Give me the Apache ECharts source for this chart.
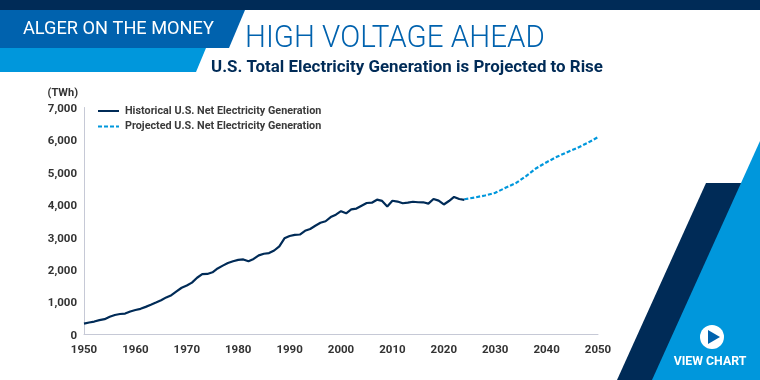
<!DOCTYPE html>
<html><head><meta charset="utf-8">
<style>html,body{margin:0;padding:0;background:#fff}#c{width:760px;height:380px}</style>
<script src="https://cdn.jsdelivr.net/npm/echarts@6/dist/echarts.min.js"></script>
</head><body><div id="c"></div>
<script>
const historicalYears = [1950,1951,1952,1953,1954,1955,1956,1957,1958,1959,1960,1961,1962,1963,1964,1965,1966,1967,1968,1969,1970,1971,1972,1973,1974,1975,1976,1977,1978,1979,1980,1981,1982,1983,1984,1985,1986,1987,1988,1989,1990,1991,1992,1993,1994,1995,1996,1997,1998,1999,2000,2001,2002,2003,2004,2005,2006,2007,2008,2009,2010,2011,2012,2013,2014,2015,2016,2017,2018,2019,2020,2021,2022,2023,2024];
const historicalValues = [334,371,399,443,472,547,601,632,645,710,755,792,852,917,984,1055,1144,1214,1329,1442,1510,1600,1750,1861,1867,1918,2038,2124,2206,2260,2300,2315,2260,2330,2440,2490,2510,2590,2720,2967,3038,3073,3083,3197,3254,3353,3444,3492,3620,3695,3802,3737,3858,3883,3971,4055,4065,4157,4119,3950,4125,4100,4048,4066,4094,4078,4077,4035,4179,4128,4010,4116,4243,4178,4150];
const projectedYears = [2024,2026,2028,2030,2032,2034,2036,2038,2040,2042,2044,2046,2048,2050];
const projectedValues = [4170,4224,4286,4369,4523,4666,4882,5128,5313,5479,5622,5756,5911,6085];
const yTicks = [0,7000];
const xRange = [1950,2050];
const pairs = (xs, ys) => xs.map((x, i) => [x, ys[i]]);
const navy = '#002B57', sky = '#0097DC', blue = '#0062AE', ink = '#333333';
const labelFont = 'Roboto';
const chart = echarts.init(document.getElementById('c'), null, {renderer:'canvas'});
const poly = (points, fill, z) => ({type:'polygon', shape:{points}, style:{fill}, z:z||1, silent:true});
const txt = (x, y, text, font, fill, align, scaleX) => ({type:'text', x, y, scaleX:scaleX||1, z:5, silent:true, style:{text, font, fill, textAlign:align||'left', textVerticalAlign:'middle'}});
chart.setOption({
  animation:false,
  backgroundColor:'#fff',
  grid:{left:84, right:162, top:107.5, bottom:45.5},
  legend:{
    left:92, top:99.5, orient:'vertical', itemWidth:21, itemHeight:3, itemGap:2.5, itemStyle:{opacity:0},
    textStyle:{fontFamily:'Roboto', fontWeight:'bold', fontSize:10.8, color:'#3a3a3a', padding:[0,0,0,1], lineHeight:13},
    data:['Historical U.S. Net Electricity Generation','Projected U.S. Net Electricity Generation']
  },
  xAxis:{type:'value', min:xRange[0], max:xRange[1], interval:10,
    splitLine:{show:false}, axisTick:{show:false},
    axisLine:{show:true, lineStyle:{color:'#c6c9d6', width:1}},
    axisLabel:{fontFamily:labelFont, fontWeight:'bold', fontSize:11.5, color:ink, margin:10, formatter:v=>String(v)}},
  yAxis:{type:'value', min:yTicks[0], max:yTicks[1], interval:1000,
    name:'(TWh)', nameLocation:'end', nameGap:9,
    nameTextStyle:{fontFamily:labelFont, fontWeight:'bold', fontSize:11, color:ink, align:'right', padding:[0,6,0,0]},
    splitLine:{show:false}, axisTick:{show:false},
    axisLine:{show:true, lineStyle:{color:'#c6c9d6', width:1}},
    axisLabel:{fontFamily:labelFont, fontWeight:'bold', fontSize:11.5, color:ink, margin:7, verticalAlign:'top', lineHeight:3,
      formatter:v=>v.toLocaleString('en-US')}},
  series:[
    {name:'Historical U.S. Net Electricity Generation', type:'line', symbol:'none', z:3,
     data:pairs(historicalYears, historicalValues), lineStyle:{color:navy, width:2.2}, itemStyle:{color:navy}},
    {name:'Projected U.S. Net Electricity Generation', type:'line', symbol:'none', z:2,
     data:pairs(projectedYears, projectedValues), lineStyle:{color:sky, width:2.2, type:[4,2]}, itemStyle:{color:sky}}
  ],
  graphic:[
    {type:'rect', shape:{x:0,y:0,width:760,height:10}, style:{fill:navy}, silent:true},
    poly([[0,10],[245,10],[229,48],[0,48]], blue),
    poly([[0,48],[206,48],[196,72],[0,72]], sky),
    poly([[706,183],[742,183],[653,380],[617,380]], navy),
    poly([[760,141],[760,380],[652,380]], sky),
    txt(23,29,'ALGER ON THE MONEY','400 18.2px Roboto','#fff'),
    txt(245,38.5,'HIGH VOLTAGE AHEAD','300 32px Roboto',blue,'left',0.923),
    txt(211,68,'U.S. Total Electricity Generation is Projected to Rise','700 16.9px Roboto',navy),
    {type:'circle', shape:{cx:712,cy:337,r:12}, style:{fill:'#fff'}, silent:true, z:4},
    poly([[708,330],[708,344],[720,337]], blue, 5),
    txt(710,362,'VIEW CHART','700 12.3px Roboto','#fff','center')
  ]
});
</script></body></html>
